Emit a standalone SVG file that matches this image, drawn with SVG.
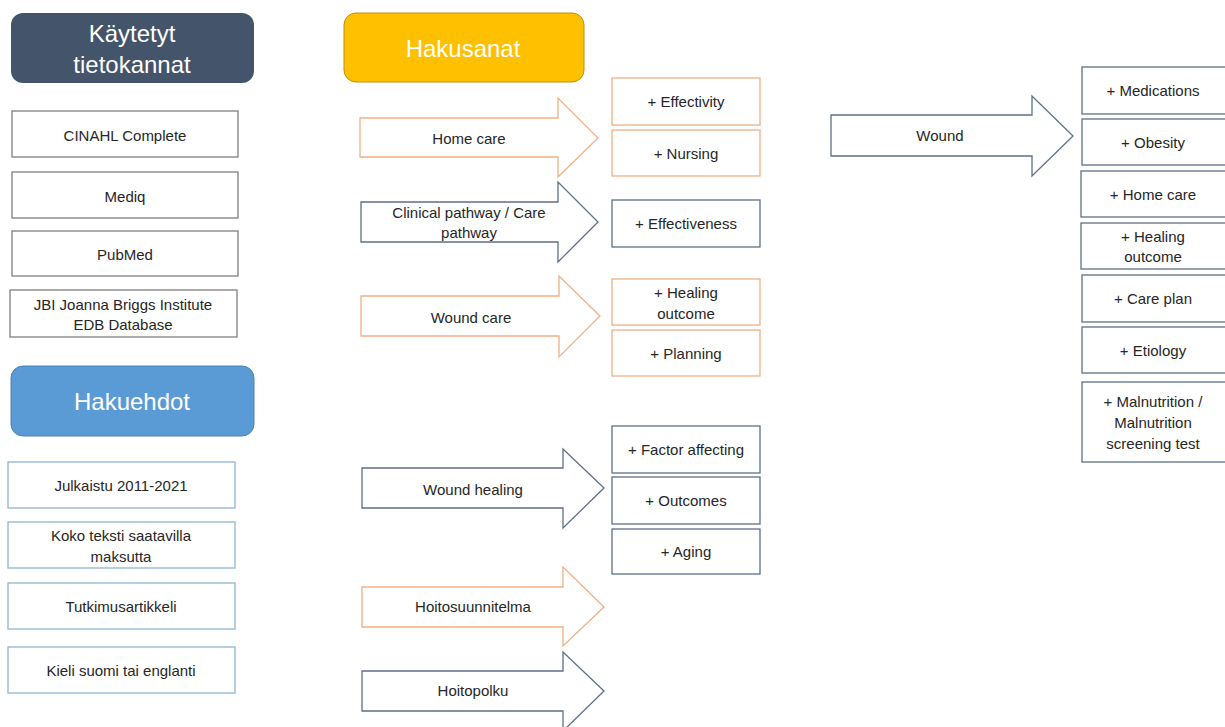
<svg xmlns="http://www.w3.org/2000/svg" width="1225" height="727" viewBox="0 0 1225 727">
<style>
text{font-family:"Liberation Sans",Arial,sans-serif;font-size:15px;fill:#262626;text-anchor:middle;dominant-baseline:central}
.hd{fill:#fff;font-size:24px}
.gray{fill:#fff;stroke:#7f7f7f;stroke-width:1.3}
.lb{fill:#fff;stroke:#8fb4d6;stroke-width:1.3}
.or{fill:#fff;stroke:#f0b084;stroke-width:1.3}
.dk{fill:#fff;stroke:#5f6f86;stroke-width:1.3}
</style>
<rect width="1225" height="727" fill="#fff"/>
<g id="h-kaytetyt"><rect x="11" y="13" width="243" height="70" rx="12" fill="#44546a"/><text class="hd" x="132" y="33">Käytetyt</text><text class="hd" x="132" y="64">tietokannat</text></g>
<g id="db-cinahl"><rect class="gray" x="12" y="111" width="226" height="46"/><text x="125" y="135">CINAHL Complete</text></g>
<g id="db-mediq"><rect class="gray" x="12" y="172" width="226" height="46"/><text x="125" y="196">Mediq</text></g>
<g id="db-pubmed"><rect class="gray" x="12" y="231" width="226" height="45"/><text x="125" y="254">PubMed</text></g>
<g id="db-jbi"><rect class="gray" x="10" y="290" width="227" height="47"/><text x="123" y="304">JBI Joanna  Briggs Institute</text><text x="123" y="324">EDB Database</text></g>
<g id="h-hakuehdot"><rect x="11" y="366" width="243" height="70" rx="12" fill="#5b9bd5" stroke="#4a82b8" stroke-width="1"/><text class="hd" x="132" y="401">Hakuehdot</text></g>
<g id="c-julkaistu"><rect class="lb" x="8" y="462" width="227" height="46"/><text x="121" y="485">Julkaistu 2011-2021</text></g>
<g id="c-koko"><rect class="lb" x="8" y="522" width="227" height="46"/><text x="121" y="535">Koko  teksti saatavilla</text><text x="121" y="556">maksutta</text></g>
<g id="c-tutkimus"><rect class="lb" x="8" y="583" width="227" height="46"/><text x="121" y="606">Tutkimusartikkeli</text></g>
<g id="c-kieli"><rect class="lb" x="8" y="647" width="227" height="46"/><text x="121" y="670">Kieli suomi tai englanti</text></g>
<g id="h-hakusanat"><rect x="344" y="13" width="240" height="69" rx="12" fill="#ffc000" stroke="#bf9000" stroke-width="1"/><text class="hd" x="463" y="48">Hakusanat</text></g>
<g id="connectors">
<path id="a-homecare" class="or" d="M360 118H558V98L598 138L558 177V157H360Z"/>
<path id="a-clinical" class="dk" d="M361 202H558V182L598 222L558 262V242H361Z"/>
<path id="a-woundcare" class="or" d="M361 296H559V276L600 316L559 357V336H361Z"/>
<path id="a-woundhealing" class="dk" d="M362 468H563V449L604 488L563 528V508H362Z"/>
<path id="a-hoitosuunnitelma" class="or" d="M362 587H563V567L604 607L563 646V627H362Z"/>
<path id="a-hoitopolku" class="dk" d="M362 671H563V652L604 691L563 731V711H362Z"/>
<path id="a-wound" class="dk" d="M831 115H1032V96L1073 136L1032 176V156H831Z"/>
</g>
<g id="l-homecare"><text x="469" y="138">Home  care</text></g>
<g id="l-clinical"><text x="469" y="212">Clinical pathway / Care</text><text x="469" y="232">pathway</text></g>
<g id="l-woundcare"><text x="471" y="317">Wound  care</text></g>
<g id="l-woundhealing"><text x="473" y="489">Wound  healing</text></g>
<g id="l-hoitosuunnitelma"><text x="473" y="606">Hoitosuunnitelma</text></g>
<g id="l-hoitopolku"><text x="473" y="690">Hoitopolku</text></g>
<g id="l-wound"><text x="940" y="135">Wound</text></g>
<g id="k-effectivity"><rect class="or" x="612" y="78" width="148" height="47"/><text x="686" y="101">+ Effectivity</text></g>
<g id="k-nursing"><rect class="or" x="612" y="130" width="148" height="46"/><text x="686" y="153">+ Nursing</text></g>
<g id="k-effectiveness"><rect class="dk" x="612" y="200" width="148" height="47"/><text x="686" y="223">+ Effectiveness</text></g>
<g id="k-healing"><rect class="or" x="612" y="279" width="148" height="46"/><text x="686" y="292">+ Healing</text><text x="686" y="313">outcome</text></g>
<g id="k-planning"><rect class="or" x="612" y="330" width="148" height="46"/><text x="686" y="353">+ Planning</text></g>
<g id="k-factor"><rect class="dk" x="612" y="426" width="148" height="47"/><text x="686" y="449">+ Factor affecting</text></g>
<g id="k-outcomes"><rect class="dk" x="612" y="477" width="148" height="47"/><text x="686" y="500">+ Outcomes</text></g>
<g id="k-aging"><rect class="dk" x="612" y="529" width="148" height="45"/><text x="686" y="551">+ Aging</text></g>
<g id="r-medications"><rect class="dk" x="1082" y="67" width="148" height="47"/><text x="1153" y="90">+ Medications</text></g>
<g id="r-obesity"><rect class="dk" x="1082" y="119" width="148" height="46"/><text x="1153" y="142">+ Obesity</text></g>
<g id="r-homecare"><rect class="dk" x="1081" y="171" width="149" height="46"/><text x="1153" y="194">+ Home  care</text></g>
<g id="r-healing"><rect class="dk" x="1081" y="223" width="149" height="46"/><text x="1153" y="236">+ Healing</text><text x="1153" y="256">outcome</text></g>
<g id="r-careplan"><rect class="dk" x="1082" y="275" width="148" height="47"/><text x="1153" y="298">+ Care plan</text></g>
<g id="r-etiology"><rect class="dk" x="1082" y="327" width="148" height="46"/><text x="1153" y="350">+ Etiology</text></g>
<g id="r-malnutrition"><rect class="dk" x="1082" y="382" width="148" height="80"/><text x="1153" y="401">+ Malnutrition /</text><text x="1153" y="422">Malnutrition</text><text x="1153" y="443">screening test</text></g>
</svg>
